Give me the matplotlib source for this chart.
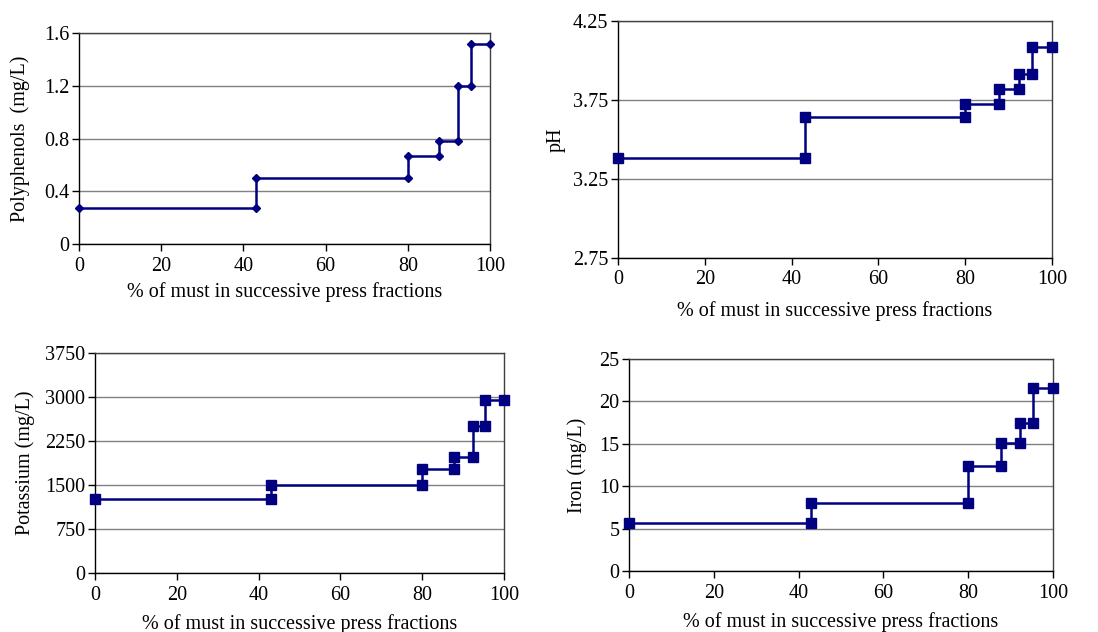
import matplotlib
matplotlib.use("Agg")
import matplotlib.pyplot as plt

plt.rcParams['font.family'] = ['Liberation Serif', 'DejaVu Serif']

# Cumulative % of must at the end of each press fraction
fraction_edges = [0, 43, 80, 87.7, 92.3, 95.3, 100]

polyphenols = [0.27, 0.50, 0.67, 0.78, 1.20, 1.52]
ph_values = [3.38, 3.645, 3.727, 3.822, 3.917, 4.084]
potassium = [1255, 1500, 1773, 1985, 2510, 2955]
iron = [5.7, 8.07, 12.35, 15.04, 17.4, 21.57]

xlabel = "% of must in successive press fractions"
xticks = [0, 20, 40, 60, 80, 100]

navy = "#000080"
FS = 14.5


def step_points(edges, vals):
    xs, ys = [], []
    for i, v in enumerate(vals):
        xs += [edges[i], edges[i + 1]]
        ys += [v, v]
    return xs, ys


def make_panel(rect, vals, ylim, yticks, yticklabels, ylabel, marker, ms,
               xlab_pad, ylab_pad):
    ax = fig.add_axes(rect)
    xs, ys = step_points(fraction_edges, vals)
    ax.plot(xs, ys, color=navy, lw=1.8, marker=marker, ms=ms,
            mfc=navy, mec=navy, clip_on=False, zorder=3)
    ax.set_xlim(0, 100)
    ax.set_ylim(*ylim)
    ax.set_xticks(xticks)
    ax.set_yticks(yticks)
    ax.set_yticklabels(yticklabels)
    ax.yaxis.grid(True, color="#808080", lw=1.0)
    ax.set_axisbelow(True)
    for s in ["top", "right"]:
        ax.spines[s].set_color("#404040")
        ax.spines[s].set_linewidth(1.0)
    for s in ["left", "bottom"]:
        ax.spines[s].set_color("black")
        ax.spines[s].set_linewidth(1.0)
    ax.tick_params(axis="x", direction="out", length=5, width=1.0,
                   labelsize=FS, pad=4, colors="black")
    ax.tick_params(axis="y", direction="out", length=5, width=1.0,
                   labelsize=FS, pad=2, colors="black")
    ax.set_xlabel(xlabel, fontsize=FS, labelpad=xlab_pad)
    ax.set_ylabel(ylabel, fontsize=FS, labelpad=ylab_pad)
    return ax


fig = plt.figure(figsize=(10.98, 6.32), dpi=100)

W, H = 1098, 632


def rect(l, r, t, b):
    return [l / W, 1 - b / H, (r - l) / W, (b - t) / H]


make_panel(rect(79, 490, 33, 244), polyphenols, (0, 1.6),
           [0, 0.4, 0.8, 1.2, 1.6], ["0", "0.4", "0.8", "1.2", "1.6"],
           "Polyphenols  (mg/L)", "D", 4.5, 5, 10)

make_panel(rect(618, 1052, 21, 258), ph_values, (2.75, 4.25),
           [2.75, 3.25, 3.75, 4.25], ["2.75", "3.25", "3.75", "4.25"],
           "pH", "s", 7.5, 8, 5)

make_panel(rect(95, 504, 353, 573), potassium, (0, 3750),
           [0, 750, 1500, 2250, 3000, 3750],
           ["0", "750", "1500", "2250", "3000", "3750"],
           "Potassium (mg/L)", "s", 7.5, 7, 7)

make_panel(rect(629, 1053, 359, 571), iron, (0, 25),
           [0, 5, 10, 15, 20, 25], ["0", "5", "10", "15", "20", "25"],
           "Iron (mg/L)", "s", 7.5, 7, 9)

fig.savefig("out.png", dpi=100)
